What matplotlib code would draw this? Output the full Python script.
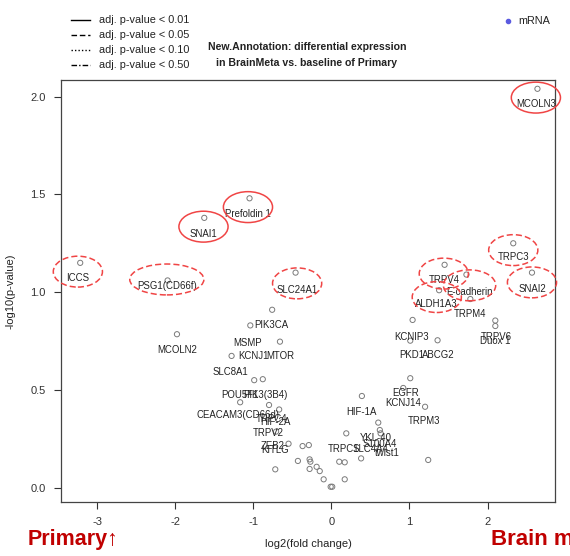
import matplotlib
matplotlib.use("Agg")
import matplotlib.pyplot as plt
from matplotlib.lines import Line2D
from matplotlib.patches import Ellipse

plt.rcParams['font.family'] = ['Liberation Sans', 'DejaVu Sans']
plt.rcParams['axes.unicode_minus'] = False

# ---------------------------------------------------------------------------
# data (log2 fold change, -log10 p-value)
# ---------------------------------------------------------------------------
fc = [-3.22, -2.10, -1.63, -1.05, -0.46, 2.64, 2.33, 2.57, 1.45, 1.73, 1.38, 1.78,
      1.04, 1.01, 1.36, 2.10, 2.10, -1.98, -1.04, -0.76, -0.66, -1.28,
      -0.99, -0.88, -1.17, -0.80, -0.67, -0.71, -0.55, -0.37, -0.29, -0.43, -0.28,
      -0.27, -0.72, -0.28, -0.19, -0.15, -0.10, -0.01, 0.01,
      0.39, 0.60, 0.62, 0.63, 0.19, 0.38, 0.10, 0.17, 0.17, 1.01, 0.92, 1.20, 1.24]
nlp = [1.15, 1.06, 1.38, 1.48, 1.10, 2.04, 1.25, 1.10, 1.14, 1.09, 1.01, 0.965,
       0.858, 0.752, 0.754, 0.855, 0.827, 0.785, 0.83, 0.91, 0.747, 0.674,
       0.55, 0.555, 0.437, 0.423, 0.40, 0.287, 0.225, 0.213, 0.218, 0.137, 0.145,
       0.133, 0.094, 0.096, 0.107, 0.085, 0.043, 0.005, 0.005,
       0.469, 0.333, 0.295, 0.278, 0.278, 0.15, 0.133, 0.13, 0.043, 0.56, 0.51, 0.414, 0.142]

# gene labels and where they sit
labels = ["ICCS", "PSG1(CD66f)", "SNAI1", "Prefoldin 1", "SLC24A1", "MCOLN3", "TRPC3",
          "SNAI2", "TRPV4", "E-cadherin", "ALDH1A3", "TRPM4", "KCNIP3", "PKD1", "ABCG2",
          "TRPV6", "Duox 1", "MCOLN2", "PIK3CA", "MSMP", "KCNJ1", "MTOR", "SLC8A1",
          "POU5F1", "PIK3(3B4)", "CEACAM3(CD66d)", "TRPC4", "HIF-2A", "TRPV2", "ZEB2",
          "KITLG", "HIF-1A", "YKL-40", "S100A4", "TRPC1", "SLC4A4", "twist1", "EGFR",
          "KCNJ14", "TRPM3"]
label_fc = [-3.25, -2.11, -1.64, -1.07, -0.44, 2.62, 2.33,
            2.57, 1.44, 1.77, 1.35, 1.77, 1.03, 1.03, 1.37,
            2.11, 2.10, -1.98, -0.77, -1.07, -1.00, -0.66, -1.30,
            -1.17, -0.84, -1.20, -0.77, -0.72, -0.81, -0.75,
            -0.72, 0.39, 0.57, 0.62, 0.16, 0.50, 0.72, 0.955,
            0.92, 1.18]
label_nlp = [1.07, 1.03, 1.30, 1.40, 1.01, 1.96, 1.18,
             1.015, 1.06, 1.00, 0.94, 0.89, 0.77, 0.68, 0.68,
             0.77, 0.75, 0.704, 0.83, 0.74, 0.675, 0.675, 0.593,
             0.474, 0.474, 0.372, 0.35, 0.334, 0.278, 0.213,
             0.193, 0.385, 0.256, 0.224, 0.20, 0.20, 0.176, 0.483,
             0.435, 0.343]

# circled genes and their adj. p-value class
circled = ["SNAI1", "Prefoldin 1", "MCOLN3", "ICCS", "PSG1(CD66f)", "SLC24A1",
           "TRPV4", "E-cadherin", "ALDH1A3", "TRPC3", "SNAI2"]
circled_cut = ["0.01", "0.01", "0.01", "0.05", "0.05", "0.05",
               "0.05", "0.05", "0.05", "0.05", "0.05"]

legend_cuts = ["0.01", "0.05", "0.10", "0.50"]

# ---------------------------------------------------------------------------
# styling
# ---------------------------------------------------------------------------
W, H = 570, 556
CUT_STYLE = {"0.01": "-", "0.05": (0, (4, 2)), "0.10": (0, (1, 1.5)), "0.50": (0, (4, 1.5, 1, 1.5))}
ELL_W = {"PSG1(CD66f)": 0.95, "E-cadherin": 0.67}
ELL_RED = "#F04545"


def fx(px):
    return px / W


def fy(py):
    return 1 - py / H


fig = plt.figure(figsize=(W / 100, H / 100), dpi=100)
ax = fig.add_axes([fx(60.7), fy(502), (555 - 60.7) / W, (502 - 80) / H])

ax.scatter(fc, nlp, s=14, facecolors="none", edgecolors="#7a7a7a", linewidths=0.7, zorder=2)

for name, lx, ly in zip(labels, label_fc, label_nlp):
    ax.text(lx, ly, name, ha="center", va="center", fontsize=6.9, color="#222222", zorder=3)

for name, cut in zip(circled, circled_cut):
    i = labels.index(name)
    e = Ellipse((label_fc[i], label_nlp[i] + 0.035), ELL_W.get(name, 0.63), 0.158,
                fill=False, edgecolor=ELL_RED, linewidth=1.1, linestyle=CUT_STYLE[cut],
                clip_on=False, zorder=4)
    ax.add_patch(e)

ax.set_xlim(-3.47, 2.865)
ax.set_ylim(-0.073, 2.085)
ax.set_xticks([-3, -2, -1, 0, 1, 2])
ax.set_yticks([0.0, 0.5, 1.0, 1.5, 2.0])
ax.set_yticklabels(["0.0", "0.5", "1.0", "1.5", "2.0"])
ax.tick_params(direction="out", length=5, width=0.8, labelsize=8, pad=6, colors="#333333")
for sp in ax.spines.values():
    sp.set_color("#444444")
    sp.set_linewidth(0.9)

fig.text(fx(308), fy(544), "log2(fold change)", ha="center", va="center", fontsize=8, color="#222222")
fig.text(fx(11), fy(291), "-log10(p-value)", ha="center", va="center", rotation=90,
         fontsize=8, color="#222222")

# legend of line styles
for cut, py in zip(legend_cuts, [20, 35.3, 49.8, 64.7]):
    fig.add_artist(Line2D([fx(71), fx(90)], [fy(py), fy(py)], color="black", lw=1.0,
                          linestyle=CUT_STYLE[cut]))
    fig.text(fx(99), fy(py), "adj. p-value < " + cut, ha="left", va="center",
             fontsize=7.8, color="#222222")

fig.text(fx(307), fy(47.3), "New.Annotation: differential expression", ha="center", va="center",
         fontsize=7.6, fontweight="bold", color="#222222")
fig.text(fx(307), fy(62.5), "in BrainMeta vs. baseline of Primary", ha="center", va="center",
         fontsize=7.6, fontweight="bold", color="#222222")

fig.add_artist(Line2D([fx(508)], [fy(20.7)], marker="o", markersize=3, color="#5a5ae0", lw=0))
fig.text(fx(518), fy(20.7), "mRNA", ha="left", va="center", fontsize=7.8, color="#222222")

fig.text(fx(28), fy(539), "Primary\u2191", ha="left", va="center", fontsize=15.5,
         fontweight="bold", color="#c00000")
fig.text(fx(491), fy(539), "Brain metastasis\u2191", ha="left", va="center", fontsize=16,
         fontweight="bold", color="#c00000")

fig.savefig("out.png", dpi=100)
